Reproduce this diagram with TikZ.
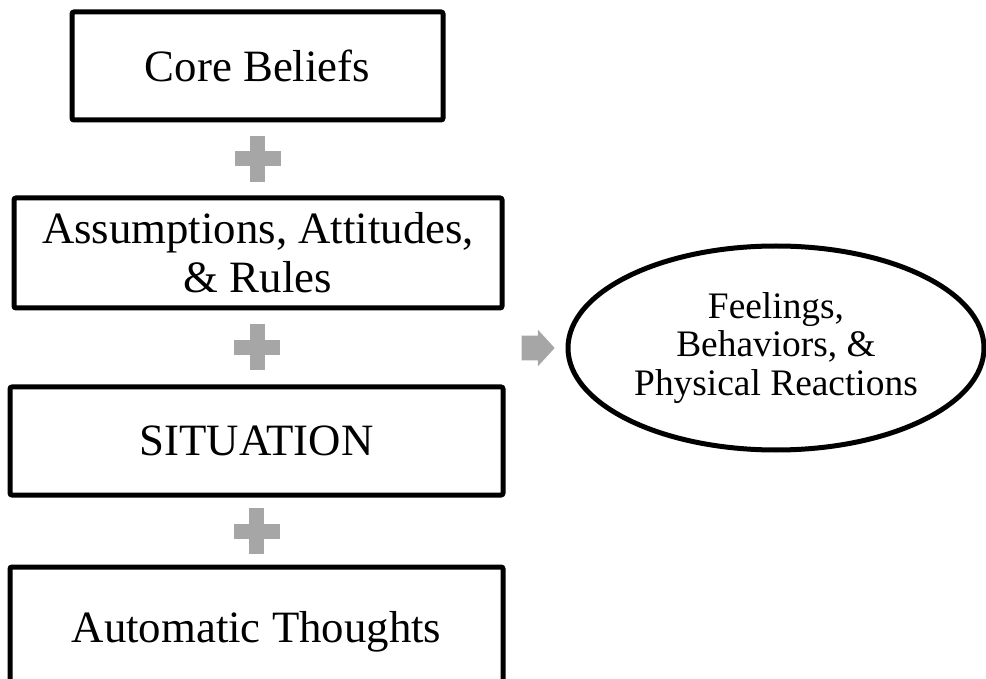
\documentclass[tikz,border=0pt]{standalone}
\usepackage{fontspec}
\setmainfont{Liberation Serif}
\usetikzlibrary{shapes.geometric,shapes.arrows,calc}

\definecolor{signgray}{RGB}{166,166,166}

\tikzset{
	stage/.style={draw=black, line width=2.5pt, rounded corners=1pt, align=center, inner sep=0pt, font=\fontsize{22.4}{24.5}\selectfont},
	outcome/.style={ellipse, draw=black, line width=2.5pt, align=center, inner sep=0pt, font=\fontsize{18.7}{19.3}\selectfont},
	plussign/.pic={
		\fill[signgray] (-23,-7.5) rectangle (23,7.5);
		\fill[signgray] (-7.5,-23) rectangle (7.5,23);
	}
}

\begin{document}
\begin{tikzpicture}[x=0.5pt, y=-0.5pt]
		\useasboundingbox (0,0) rectangle (986,679);

		\node[stage, minimum width=185.5pt, minimum height=54pt] (core) at (257.5, 66) {Core Beliefs};
		\node[stage, minimum width=244pt, minimum height=55pt] (assume) at (258, 253) {Assumptions, Attitudes,\\\& Rules};
		\node[stage, minimum width=246.5pt, minimum height=54pt] (situation) at (256.5, 441) {SITUATION};
		\node[stage, minimum width=246.5pt, minimum height=65pt] (thoughts) at (256.5, 632) {Automatic Thoughts};

		\node[outcome, minimum width=208pt, minimum height=102pt] (result) at (776, 348) {Feelings,\\Behaviors, \&\\Physical Reactions};

		\pic at ($(core.south)!0.5!(assume.north)$) {plussign};
		\pic at ($(assume.south)!0.5!(situation.north)$) {plussign};
		\pic at ($(situation.south)!0.5!(thoughts.north)$) {plussign};

		\node[single arrow, fill=signgray, inner xsep=0pt, inner ysep=6pt, minimum height=16.5pt, single arrow head extend=3pt, single arrow tip angle=95] (toresult) at (532.5, 348) {};
	\end{tikzpicture}
\end{document}
